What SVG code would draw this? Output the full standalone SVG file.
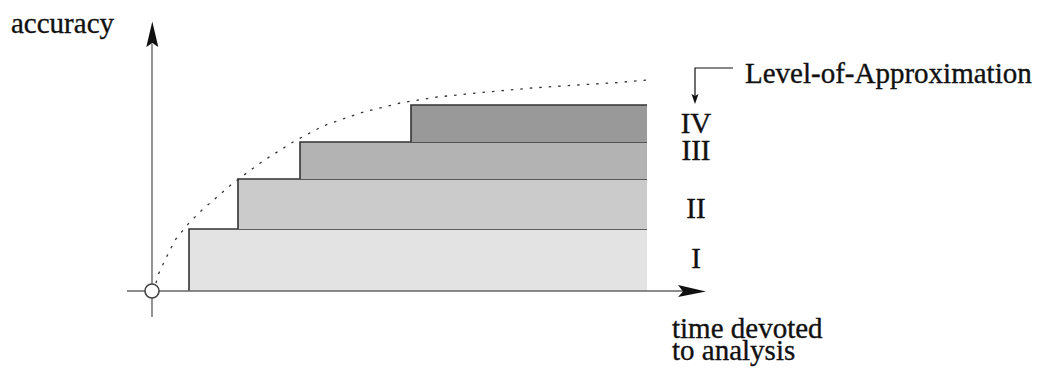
<svg xmlns="http://www.w3.org/2000/svg" width="1048" height="372" viewBox="0 0 1048 372">
  <style>
    .edge { fill: none; stroke: #333; stroke-width: 1.6; }
    .axis { fill: none; stroke: #666; stroke-width: 1.4; }
    .curve { fill: none; stroke: #333; stroke-width: 1.3; stroke-dasharray: 2.5 7; }
    .head { fill: #111; }
  </style>

  <!-- approximation levels, each a stepped band -->
  <g id="level-I">
    <rect x="189" y="229" width="458" height="62" fill="#e3e3e3"/>
    <polyline class="edge" points="189,291 189,229 647,229"/>
  </g>
  <g id="level-II">
    <rect x="238" y="179" width="409" height="50" fill="#cbcbcb"/>
    <polyline class="edge" points="238,229 238,179 647,179"/>
  </g>
  <g id="level-III">
    <rect x="300" y="142" width="347" height="37" fill="#b3b3b3"/>
    <polyline class="edge" points="300,179 300,142 647,142"/>
  </g>
  <g id="level-IV">
    <rect x="411" y="105" width="236" height="37" fill="#999999"/>
    <polyline class="edge" points="411,142 411,105 647,105"/>
  </g>

  <!-- axes, origin marker and accuracy curve -->
  <g id="connectors">
    <line class="axis" x1="152" y1="317" x2="152" y2="44"/>
    <path class="head" d="M152.3,21.5 L158.3,47 L152.3,43 L146.3,47 Z"/>
    <line class="axis" x1="127" y1="291" x2="686" y2="291"/>
    <path class="head" d="M706,291.5 L678,297 L683,291.5 L678,285 Z"/>
    <polyline class="curve" points="156,283 158,275 166,258 175,240 189,223 202,210 217,197 232,184 248,172 263,161 293,142 323,126 360,113 400,103 437,97 487,92 532,88 577,85 612,83 648,80"/>
    <polyline fill="none" stroke="#111" stroke-width="1.2" points="733,68 695,68 695,97"/>
    <path class="head" d="M695,104 L691.5,94 L695,96 L698.5,94 Z"/>
  </g>

  <g id="origin">
    <circle cx="152" cy="291" r="7" fill="#fff" stroke="#444" stroke-width="1.6"/>
  </g>

  <!-- text set in a Times-metric serif, slightly heavier than regular -->
  <g id="labels" font-family="'Liberation Serif', 'DejaVu Serif', serif" font-size="29" fill="#111" stroke="#111" stroke-width="0.35">
    <text x="11" y="33">accuracy</text>
    <text x="745" y="83">Level-of-Approximation</text>
    <text x="672" y="338">time devoted</text>
    <text x="672" y="360">to analysis</text>
    <g text-anchor="middle">
      <text x="696" y="133">IV</text>
      <text x="696" y="160">III</text>
      <text x="696" y="218">II</text>
      <text x="696" y="268">I</text>
    </g>
  </g>
</svg>
